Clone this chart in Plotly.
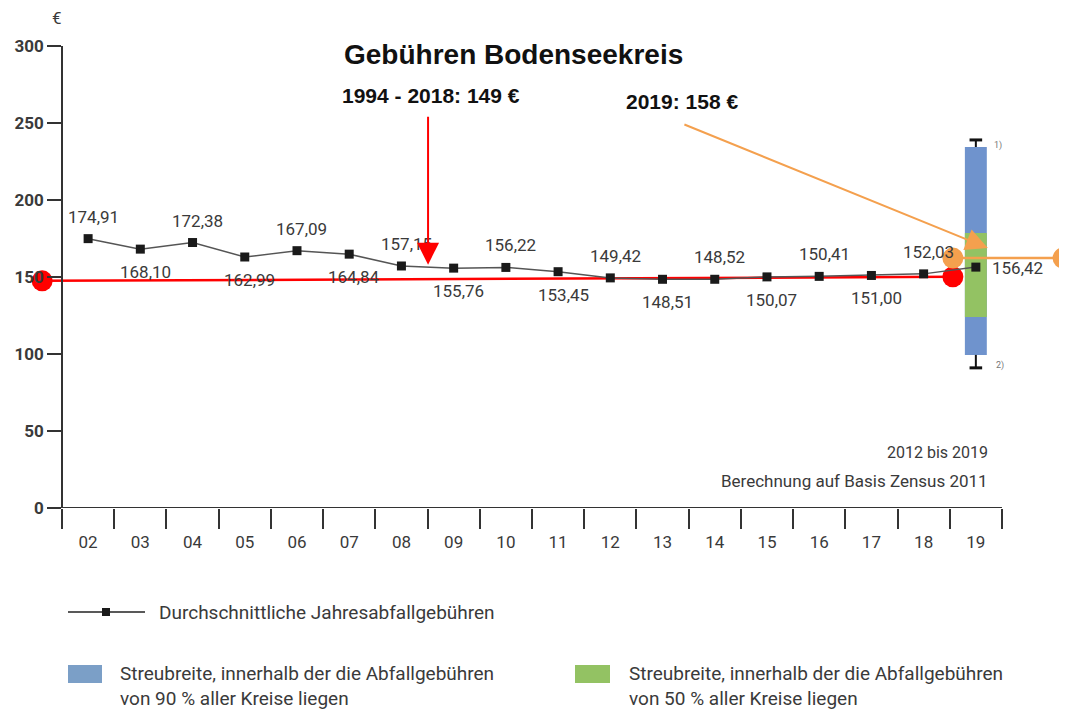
import plotly.graph_objects as go

# ---------------- data ----------------
years = ['02', '03', '04', '05', '06', '07', '08', '09', '10', '11',
         '12', '13', '14', '15', '16', '17', '18', '19']
fees = [174.91, 168.10, 172.38, 162.99, 167.09, 164.84, 157.15, 155.76, 156.22,
        153.45, 149.42, 148.51, 148.52, 150.07, 150.41, 151.00, 152.03, 156.42]
y_ticks = [0, 50, 100, 150, 200, 250, 300]

# spread of fees in 2019 (box at "19")
spread_lo, spread_p5, spread_p25, spread_p75, spread_p95, spread_hi = 91, 99.4, 124, 178.6, 234.4, 239

# Bodenseekreis overlays
red_x = [-0.88, 16.56]
red_y = [147.5, 150.1]
orange_x = [16.56, 18.67]
orange_y = [162.3, 162.3]
red_arrow = dict(x=6.51, y=158, ax=6.51, ay=255)
orange_arrow = dict(x=17.23, y=168.8, ax=11.39, ay=249.4)

NARROW = "Roboto, Liberation Sans, sans-serif"
ARIAL = "Liberation Sans, Arial, sans-serif"
TXT = "#3a3a3a"
BLUE = "#6f93cd"
GREEN = "#93c263"
ORANGE = "#f4a04e"
RED = "#ff0000"

OFF = 8  # page body margin
W, H = 1067, 714
T = 46 - OFF
B = H - (508 - OFF)
PLOT_H = H - T - B
XL = -0.5 - (62 - OFF) / 52.22
XR = XL + W / 52.22


def px(p):
    return (p - OFF) / W


def py(p):
    return (H - B - (p - OFF)) / PLOT_H


def nfont(size, color=TXT, weight='normal'):
    return dict(family=NARROW, size=size, color=color, weight=weight)


fig = go.Figure()

# spread bars
fig.add_trace(go.Bar(x=[len(years) - 1], y=[spread_p95 - spread_p5], base=[spread_p5],
                     width=0.42, marker=dict(color=BLUE, line=dict(width=0)), showlegend=False))
fig.add_trace(go.Bar(x=[len(years) - 1], y=[spread_p75 - spread_p25], base=[spread_p25],
                     width=0.42, marker=dict(color=GREEN, line=dict(width=0)), showlegend=False))
# whiskers
for a, b in [(spread_p95, spread_hi), (spread_p5, spread_lo)]:
    fig.add_trace(go.Scatter(x=[len(years) - 1, len(years) - 1], y=[a, b], mode='lines',
                             line=dict(color='#111', width=2), showlegend=False))
    fig.add_trace(go.Scatter(x=[len(years) - 1], y=[b], mode='markers',
                             marker=dict(symbol='line-ew', size=9, line=dict(color='#111', width=3)),
                             showlegend=False))

# red average line
fig.add_trace(go.Scatter(x=red_x, y=red_y, mode='lines+markers', cliponaxis=False,
                         line=dict(color=RED, width=2.5), marker=dict(color=RED, size=21),
                         showlegend=False))
# orange 2019 line
fig.add_trace(go.Scatter(x=orange_x, y=orange_y, mode='lines+markers', cliponaxis=False,
                         line=dict(color=ORANGE, width=2.5), marker=dict(color=ORANGE, size=21),
                         showlegend=False))

# average annual fees
fig.add_trace(go.Scatter(x=list(range(len(years))), y=fees, xaxis='x2', mode='lines+markers',
                         line=dict(color='#555', width=1.5),
                         marker=dict(symbol='square', size=9, color='#1a1a1a'),
                         showlegend=False))

ann = []
for i, v in enumerate(fees):
    lab = f"{v:.2f}".replace('.', ',')
    if i == len(fees) - 1:
        ann.append(dict(x=i, y=v, xref='x', yref='y', text=lab, showarrow=False,
                        xanchor='left', yanchor='middle', xshift=14, yshift=-1, font=nfont(17)))
    else:
        ann.append(dict(x=i, y=v, xref='x', yref='y', text=lab, showarrow=False,
                        xanchor='center', yanchor='middle',
                        xshift=5, yshift=22 if i % 2 == 0 else -23, font=nfont(17)))

# arrows
ann.append(dict(x=red_arrow['x'], y=red_arrow['y'], ax=red_arrow['ax'], ay=red_arrow['ay'],
                xref='x', yref='y', axref='x', ayref='y', text='', showarrow=True,
                arrowhead=2, arrowsize=2.2, arrowwidth=2, arrowcolor=RED))
ann.append(dict(x=orange_arrow['x'], y=orange_arrow['y'], ax=orange_arrow['ax'], ay=orange_arrow['ay'],
                xref='x', yref='y', axref='x', ayref='y', text='', showarrow=True,
                arrowhead=2, arrowsize=2.2, arrowwidth=2, arrowcolor=ORANGE))


def pann(x, y, text, font, xanchor='left', align='left'):
    ann.append(dict(x=px(x), y=py(y), xref='paper', yref='paper', text=text, showarrow=False,
                    xanchor=xanchor, yanchor='middle', align=align, font=font))


# titles
pann(513, 55, '<b>Gebühren Bodenseekreis</b>', dict(family=ARIAL, size=28, color='#111'), 'center')
pann(340, 95, '<b>1994 - 2018: 149 €</b>', dict(family=ARIAL, size=21, color='#111'))
pann(624, 101, '<b>2019: 158 €</b>', dict(family=ARIAL, size=21, color='#111'))
pann(57, 18, '€', nfont(17), 'center')
pann(990, 452, '2012 bis 2019', nfont(16), 'right', 'right')
pann(990, 481, 'Berechnung auf Basis Zensus 2011', nfont(17), 'right', 'right')
pann(992, 145, '1)', nfont(9, '#777'))
pann(994, 365, '2)', nfont(9, '#777'))

# legend
pann(157, 612, 'Durchschnittliche Jahresabfallgebühren', nfont(19))
pann(118, 686, 'Streubreite, innerhalb der die Abfallgebühren<br>von 90 % aller Kreise liegen', nfont(19))
pann(627, 686, 'Streubreite, innerhalb der die Abfallgebühren<br>von 50 % aller Kreise liegen', nfont(19))

shapes = [
    # x baseline
    dict(type='line', xref='x', yref='y', x0=-0.5, x1=len(years) - 0.5, y0=0, y1=0,
         line=dict(color='#333', width=2)),
    # legend symbols
    dict(type='line', xref='paper', yref='paper', x0=px(68), x1=px(145), y0=py(612), y1=py(612),
         line=dict(color='#222', width=1.5)),
    dict(type='rect', xref='paper', yref='paper', x0=px(102), x1=px(110), y0=py(608), y1=py(616),
         fillcolor='#1a1a1a', line=dict(width=0)),
    dict(type='rect', xref='paper', yref='paper', x0=px(68), x1=px(102), y0=py(665), y1=py(683),
         fillcolor='#7b9fc7', line=dict(width=0)),
    dict(type='rect', xref='paper', yref='paper', x0=px(575), x1=px(610), y0=py(665), y1=py(683),
         fillcolor=GREEN, line=dict(width=0)),
]

fig.update_layout(
    width=W, height=H,
    margin=dict(l=0, r=0, t=T, b=B),
    paper_bgcolor='white', plot_bgcolor='white',
    barmode='overlay',
    xaxis=dict(range=[XL, XR], showgrid=False, zeroline=False, showline=False,
               tickmode='array', tickvals=[i - 0.5 for i in range(len(years) + 1)],
               ticks='outside', ticklen=20, tickwidth=1.5, tickcolor='#333',
               showticklabels=False),
    xaxis2=dict(range=[XL, XR], overlaying='x', anchor='y', side='bottom',
                showgrid=False, zeroline=False, showline=False,
                tickmode='array', tickvals=list(range(len(years))), ticktext=years,
                ticks='outside', ticklen=19, tickcolor='rgba(0,0,0,0)',
                tickfont=nfont(17)),
    yaxis=dict(range=[0, 300], anchor='free', position=px(62), showgrid=False, zeroline=False,
               showline=True, linecolor='#333', linewidth=1.5,
               tickmode='array', tickvals=y_ticks, ticks='outside', ticklen=14,
               tickwidth=1.5, tickcolor='#333',
               tickfont=nfont(17, '#3a3a3a', 'bold')),
    annotations=ann, shapes=shapes,
)

fig.write_html("out.html")
